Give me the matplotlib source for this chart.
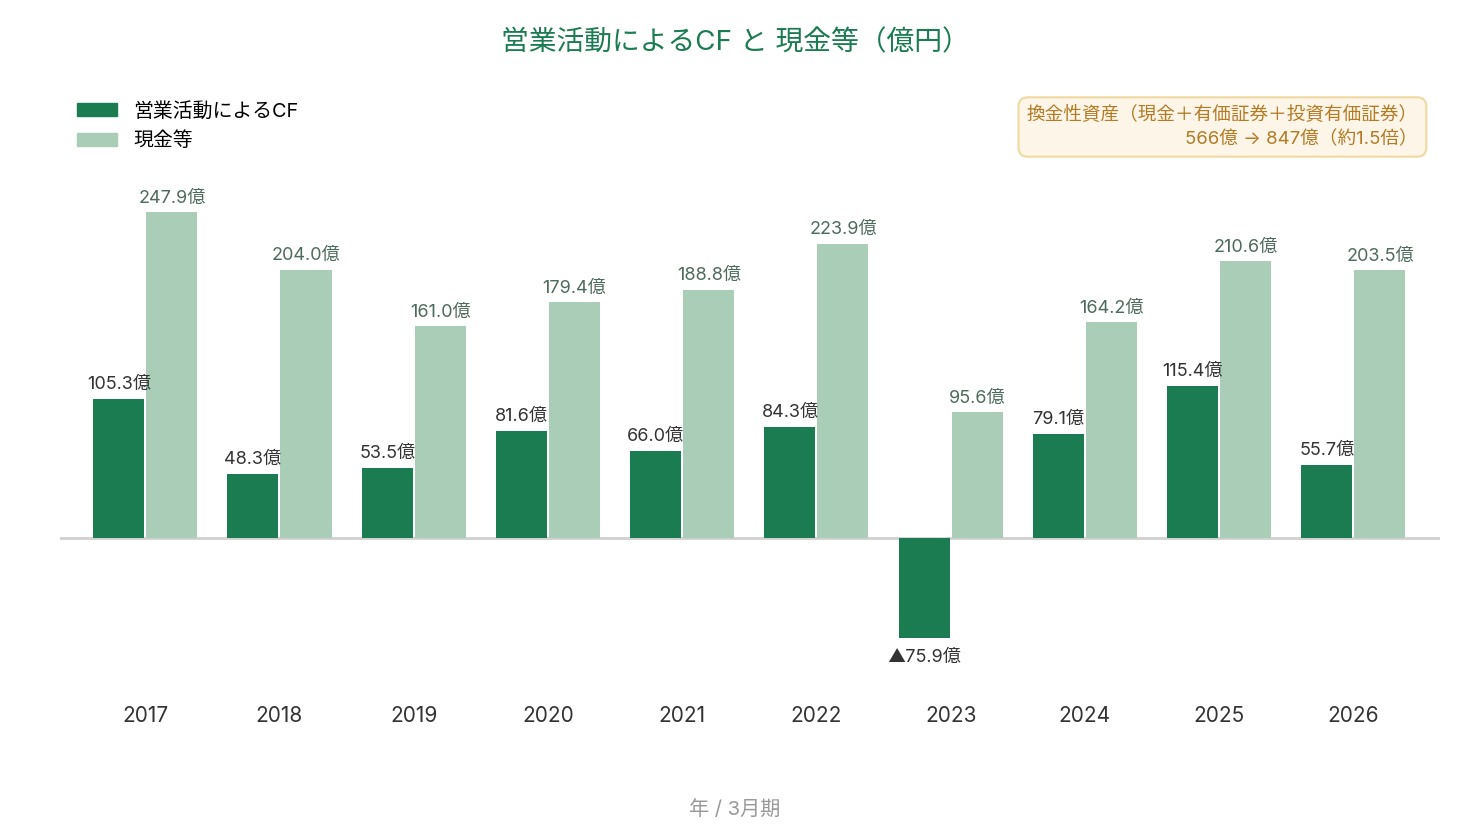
import matplotlib
matplotlib.use("Agg")
import matplotlib.pyplot as plt
import numpy as np
from matplotlib.patches import Patch

plt.rcParams['font.family'] = ['Inter', 'Noto Sans CJK JP', 'DejaVu Sans']

years = ['2017', '2018', '2019', '2020', '2021', '2022', '2023', '2024', '2025', '2026']
cf_values = [105.3, 48.3, 53.5, 81.6, 66.0, 84.3, -75.9, 79.1, 115.4, 55.7]
cash_values = [247.9, 204.0, 161.0, 179.4, 188.8, 223.9, 95.6, 164.2, 210.6, 203.5]

dark_green = '#1b7b51'
light_green = '#a9cdb7'

fig = plt.figure(figsize=(14.7, 8.4), dpi=100)
# axes placed in pixel terms: x 60..1440, y 180..680 (from top)
ax = fig.add_axes([60 / 1470, 1 - 680 / 840, 1380 / 1470, 500 / 840])

x = np.arange(len(years))
w = 0.38
gap = 0.0075
ax.bar(x - w / 2 - gap, cf_values, w, color=dark_green, zorder=2)
ax.bar(x + w / 2 + gap, cash_values, w, color=light_green, zorder=2)

ax.set_xlim(-0.635, 9.645)
ax.set_ylim(-108.0, 272.2)
ax.axhline(0, color='#d0d0d0', linewidth=2, zorder=1)

for i in range(len(years)):
    v = cf_values[i]
    if v >= 0:
        ax.annotate(f'{v:.1f}億', (x[i] - w / 2 - gap, v), xytext=(0, 10.5),
                    textcoords='offset points', ha='center', va='center',
                    fontsize=13, color='#333333')
    else:
        ax.annotate(f'▲{abs(v):.1f}億', (x[i] - w / 2 - gap, v), xytext=(0, -14.5),
                    textcoords='offset points', ha='center', va='center',
                    fontsize=13, color='#333333')
    c = cash_values[i]
    ax.annotate(f'{c:.1f}億', (x[i] + w / 2 + gap, c), xytext=(0, 10),
                textcoords='offset points', ha='center', va='center',
                fontsize=13, color='#4d6b5c')

ax.set_xticks(x)
ax.set_xticklabels(years, fontsize=15, color='#333333')
ax.tick_params(axis='x', length=0, pad=18.5)
ax.set_yticks([])
for s in ax.spines.values():
    s.set_visible(False)

fig.text(0.5, 1 - 43 / 840, '営業活動によるCF と 現金等（億円）', ha='center', va='center',
         fontsize=20, color=dark_green)
fig.text(0.5, 1 - 810 / 840, '年 / 3月期', ha='center', va='center',
         fontsize=14.5, color='#999999')

handles = [Patch(color=dark_green), Patch(color=light_green)]
fig.legend(handles, ['営業活動によるCF', '現金等'], loc='upper left',
           bbox_to_anchor=(63 / 1470, 1 - 88 / 840), frameon=False,
           fontsize=14.3, handlelength=2.0, handleheight=0.65,
           handletextpad=0.85, labelspacing=0.55, borderpad=0.2)

fig.text(1418 / 1470, 1 - 127 / 840,
         '換金性資産（現金＋有価証券＋投資有価証券）\n566億 → 847億（約1.5倍）',
         ha='right', va='center', multialignment='right', fontsize=13.4,
         color='#b47a24', linespacing=1.5,
         bbox=dict(boxstyle='round,pad=0.45,rounding_size=0.5',
                   facecolor='#fdf6e8', edgecolor='#f0d9a0', linewidth=1.5))

fig.savefig('out.png', dpi=100)
